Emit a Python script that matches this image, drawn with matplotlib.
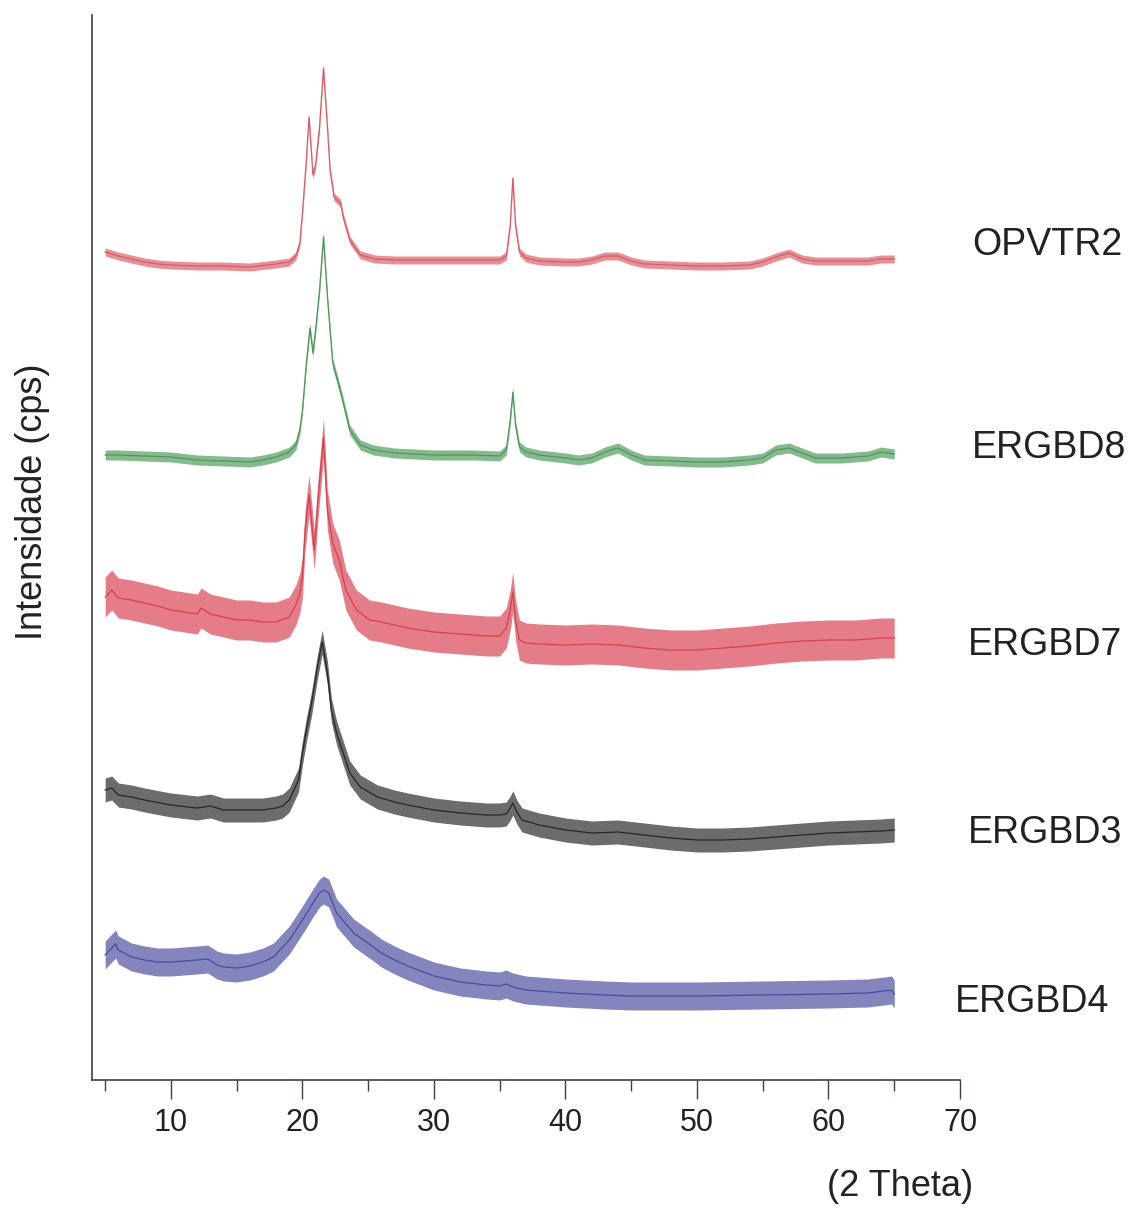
import numpy as np
import matplotlib
matplotlib.use("Agg")
import matplotlib.pyplot as plt

plt.rcParams['font.family'] = ['Liberation Sans', 'DejaVu Sans']

SAMPLES = ["OPVTR2", "ERGBD8", "ERGBD7", "ERGBD3", "ERGBD4"]
COLORS = ["#dc5a64", "#4c9a58", "#d8404e", "#262626", "#4a4c9e"]

# 2-theta positions and offset intensities (arbitrary units)
x_opvtr2 = [5, 6, 7, 8, 9, 10, 12, 14, 16, 18, 19, 19.5, 19.8, 20.0, 20.3, 20.5, 20.8, 21.0, 21.3, 21.6,
            21.9, 22.1, 22.4, 22.9, 23.1, 23.6, 24.4, 25.5, 27, 30, 33, 35, 35.5, 35.8, 36.0, 36.2, 36.5, 37, 38, 40,
            41, 42, 43, 44, 45, 46, 48, 50, 52, 54, 55, 56, 57, 58, 59, 61, 63, 64, 65]
y_opvtr2 = [828, 824, 821, 818, 816, 815, 814, 814, 813, 816, 818, 824, 837, 867, 920, 963, 905, 915, 953, 1012,
            953, 910, 883, 877, 863, 840, 825, 821, 820, 820, 820, 820, 824, 855, 902, 855, 828, 822, 819, 818,
            818, 820, 824, 824, 819, 816, 815, 814, 814, 815, 818, 823, 827, 821, 819, 819, 819, 821, 821]

x_ergbd8 = [5, 6, 8, 10, 12, 14, 16, 17, 18, 19, 19.5, 19.8, 20.0, 20.3, 20.57, 20.8, 21.0, 21.3, 21.6, 21.9,
            22.3, 22.6, 23.0, 23.6, 24.4, 25.4, 27, 30, 33, 35, 35.5, 35.8, 36.0, 36.2, 36.5, 37, 38, 40, 41, 42,
            43, 44, 45, 46, 48, 50, 52, 54, 55, 56, 57, 58, 59, 61, 63, 64, 65]
y_ergbd8 = [625, 625, 624, 623, 620, 619, 618, 620, 623, 628, 635, 650, 670, 717, 752, 727, 750, 790, 843, 783,
            717, 703, 683, 650, 635, 630, 627, 625, 625, 624, 630, 660, 688, 655, 633, 628, 625, 622, 620, 622,
            628, 632, 625, 620, 619, 618, 618, 620, 622, 630, 632, 627, 622, 622, 624, 628, 626]

x_ergbd7 = [5, 5.5, 6, 7, 8, 9, 10, 11, 12, 12.3, 13, 14, 15, 16, 17, 18, 19, 19.5, 19.8, 20.0,
            20.2, 20.5, 20.9, 21.2, 21.6, 21.9, 22.3, 22.8, 23.3, 24.1, 25.1, 26, 28, 30, 32, 34, 35, 35.5, 35.8, 36.0,
            36.2, 36.5, 37, 38, 40, 42, 44, 46, 48, 50, 52, 54, 56, 58, 60, 62, 64, 65]
y_ergbd7 = [483, 490, 482, 480, 477, 474, 470, 468, 466, 472, 466, 463, 460, 460, 458, 458, 463, 475, 487, 503,
            550, 585, 530, 583, 642, 570, 537, 520, 490, 470, 460, 458, 452, 448, 446, 444, 444, 452, 470, 488,
            460, 440, 437, 436, 435, 436, 435, 432, 430, 430, 432, 434, 437, 439, 440, 440, 442, 442]

x_ergbd3 = [5, 5.5, 6, 7, 8, 10, 12, 13, 14, 15, 16, 17, 18, 18.5, 19.0, 19.7, 20.0, 20.3, 20.7, 21.1,
            21.5, 21.9, 22.2, 22.6, 23.1, 23.6, 24.4, 25.7, 27, 28, 30, 32, 34, 35, 35.5, 35.8, 36.0, 36.3, 36.7, 38,
            40, 42, 44, 46, 48, 50, 52, 54, 56, 58, 60, 62, 64, 65]
y_ergbd3 = [290, 292, 285, 283, 280, 275, 272, 274, 270, 270, 270, 270, 272, 274, 280, 300, 327, 350, 377, 410,
            438, 407, 370, 347, 327, 307, 293, 283, 278, 275, 270, 267, 265, 265, 266, 272, 277, 268, 260, 255,
            250, 247, 248, 245, 242, 240, 240, 241, 243, 245, 247, 248, 249, 250]

x_ergbd4 = [5, 5.5, 5.8, 6, 7, 8, 9, 10, 11, 12, 12.8, 13.5, 14, 15, 16, 17, 17.8, 19.0, 20.0, 20.8,
            21.3, 21.6, 22.0, 22.6, 23.9, 25.4, 26, 27, 28, 29, 30, 32, 34, 35, 35.5, 36, 37, 40, 43, 45,
            48, 50, 55, 60, 63, 64.8, 65]
y_ergbd4 = [125, 132, 136, 130, 123, 120, 118, 118, 119, 120, 121, 115, 113, 112, 114, 118, 123, 140, 160, 177,
            187, 190, 187, 167, 147, 133, 127, 120, 114, 109, 104, 98, 95, 94, 96, 93, 90, 87, 85, 84,
            84, 84, 85, 86, 87, 90, 86]

# half-width of the noise band of each pattern
noise = [4, 5, 20, 12, 14]

xs = [x_opvtr2, x_ergbd8, x_ergbd7, x_ergbd3, x_ergbd4]
ys = [y_opvtr2, y_ergbd8, y_ergbd7, y_ergbd3, y_ergbd4]

x_ticks = [10, 20, 30, 40, 50, 60, 70]

fig = plt.figure(figsize=(11.36, 12.08), dpi=100)
ax = fig.add_axes([92 / 1136, 1 - 1080 / 1208, (960 - 92) / 1136, (1080 - 15) / 1208])

for x, y, c, h in zip(xs, ys, COLORS, noise):
    x = np.asarray(x, float)
    y = np.asarray(y, float)
    ax.fill_between(x, y - h, y + h, color=c, alpha=0.68, lw=0)
    ax.plot(x, y, color=c, lw=0.9)

ax.set_xlim(4, 70)
ax.set_ylim(0, 1065)
ax.set_xticks(x_ticks)
ax.set_xticklabels([str(t) for t in x_ticks])
ax.set_xticks([5, 15, 25, 35, 45, 55, 65], minor=True)
ax.set_yticks([])
for s in ["top", "right"]:
    ax.spines[s].set_visible(False)
for s in ["left", "bottom"]:
    ax.spines[s].set_color("#3c3c58")
    ax.spines[s].set_linewidth(1.2)
ax.tick_params(axis="x", which="major", direction="out", length=14, width=1.0,
               color="#3c3c58", labelsize=22, pad=6, labelcolor="#222222")
ax.tick_params(axis="x", which="minor", direction="out", length=8, width=1.0, color="#3c3c58")

label_pos = [(70.9, 835), (70.9, 632), (70.6, 435), (70.6, 247), (69.6, 78)]
for name, (lx, ly) in zip(SAMPLES, label_pos):
    ax.text(lx, ly, name, fontsize=27, ha="left", va="center", color="#222222", clip_on=False)

fig.text(900 / 1136, 1 - 1187 / 1208, "(2 Theta)", fontsize=26, ha="center", va="center", color="#222222")
fig.text(33 / 1136, 1 - 502 / 1208, "Intensidade (cps)", fontsize=26, rotation=90,
         ha="center", va="center", color="#222222")

fig.savefig("out.png", dpi=100)
